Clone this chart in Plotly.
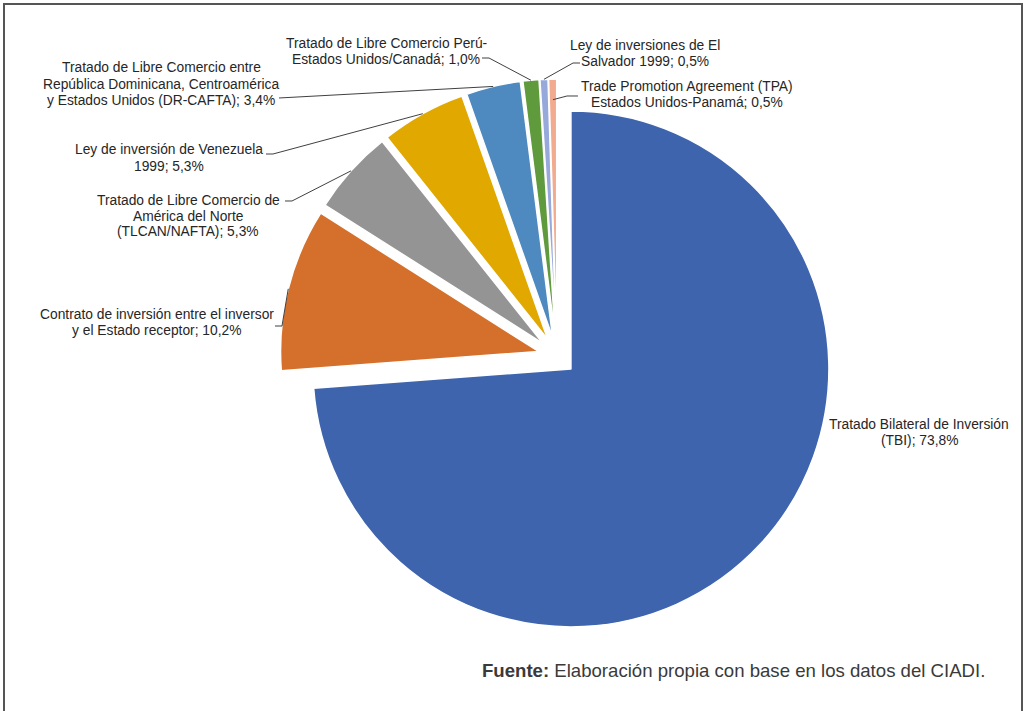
import numpy as np
import plotly.graph_objects as go

# ---------------- data ----------------
names = [
    "Tratado Bilateral de Inversión\n(TBI)",
    "Contrato de inversión entre el inversor\ny el Estado receptor",
    "Tratado de Libre Comercio de\nAmérica del Norte\n(TLCAN/NAFTA)",
    "Ley de inversión de Venezuela\n1999",
    "Tratado de Libre Comercio entre\nRepública Dominicana, Centroamérica\ny Estados Unidos (DR-CAFTA)",
    "Tratado de Libre Comercio Perú-\nEstados Unidos/Canadá",
    "Ley de inversiones de El\nSalvador 1999",
    "Trade Promotion Agreement (TPA)\nEstados Unidos-Panamá",
]
values = [73.8, 10.2, 5.3, 5.3, 3.4, 1.0, 0.5, 0.5]
colors = ["#3F64AE", "#D4702B", "#949494", "#E1A800",
          "#4E89C0", "#5F9A3C", "#97A9DB", "#F2AB8E"]

# ---------------- layout constants (pixels) ----------------
W, H = 1026, 711
CX, CY = 557, 356          # unexploded pie centre
R = 258                    # slice radius
PULL = 19 / 258            # explosion as fraction of radius
half = R * (1 + PULL)

# label placement: (centre x, first line y), leader start points, anchor radius fraction
label_pos = [(919, 424), (157, 314), (188, 200), (169, 150),
             (161, 68), (386, 43), (645, 45), (687, 86)]
leader_start = [None,
                [(275, 326), (282, 326)],
                [(285, 201), (292, 201)],
                [(266, 154), (273, 154)],
                [(279, 98)],
                [(482, 58), (489, 58)],
                [(580, 63), (573, 63)],
                [(578, 96), (567, 96)]]
anchor_frac = [1, 1, 1, 1, 1, 1, 1, 0.92]
LINE_H = 16


def px(x):
    return x / W


def py(y):
    return 1 - y / H


fig = go.Figure(go.Pie(
    labels=[n.replace("\n", " ") for n in names],
    values=values,
    sort=False,
    direction="clockwise",
    rotation=0,
    pull=[PULL] * len(values),
    marker=dict(colors=colors, line=dict(color="white", width=1.5)),
    textinfo="none",
    hoverinfo="label+percent",
    showlegend=False,
    domain=dict(x=[px(CX - half), px(CX + half)], y=[py(CY + half), py(CY - half)]),
))

annotations = []
shapes = []
total = sum(values)
cum = 0.0
for i, (name, v) in enumerate(zip(names, values)):
    a0 = cum / total * 360
    cum += v
    a1 = cum / total * 360
    mid = np.radians((a0 + a1) / 2)
    dx, dy = np.sin(mid), -np.cos(mid)
    sx = CX + PULL * R * dx
    sy = CY + PULL * R * dy
    ex = sx + anchor_frac[i] * R * dx
    ey = sy + anchor_frac[i] * R * dy

    pct = f"{v:.1f}".replace(".", ",") + "%"
    lines = name.split("\n")
    lines[-1] = lines[-1] + "; " + pct
    lx, ly = label_pos[i]
    for k, ln in enumerate(lines):
        annotations.append(dict(
            x=px(lx), y=py(ly + k * LINE_H), xref="paper", yref="paper",
            text=ln, showarrow=False, xanchor="center", yanchor="middle",
            font=dict(family="Liberation Sans, Arial, sans-serif", size=13.8, color="#262626"),
        ))
    if leader_start[i]:
        pts = leader_start[i] + [(ex, ey)]
        path = "M " + " L ".join(f"{px(x):.5f},{py(y):.5f}" for x, y in pts)
        shapes.append(dict(type="path", xref="paper", yref="paper", path=path,
                           line=dict(color="#404040", width=1)))

annotations.append(dict(
    x=px(987), y=py(670), xref="paper", yref="paper",
    text="<b>Fuente:</b> Elaboración propia con base en los datos del CIADI.",
    showarrow=False, xanchor="right", yanchor="middle",
    font=dict(family="Liberation Sans, Arial, sans-serif", size=18.6, color="#3a3a3a"),
))

shapes.append(dict(type="rect", xref="paper", yref="paper",
                   x0=px(4), x1=px(1022), y0=-0.05, y1=py(4),
                   line=dict(color="#555555", width=2)))

fig.update_layout(
    width=W, height=H,
    margin=dict(l=0, r=0, t=0, b=0),
    paper_bgcolor="white", plot_bgcolor="white",
    annotations=annotations, shapes=shapes,
)

fig.write_html("out.html")
